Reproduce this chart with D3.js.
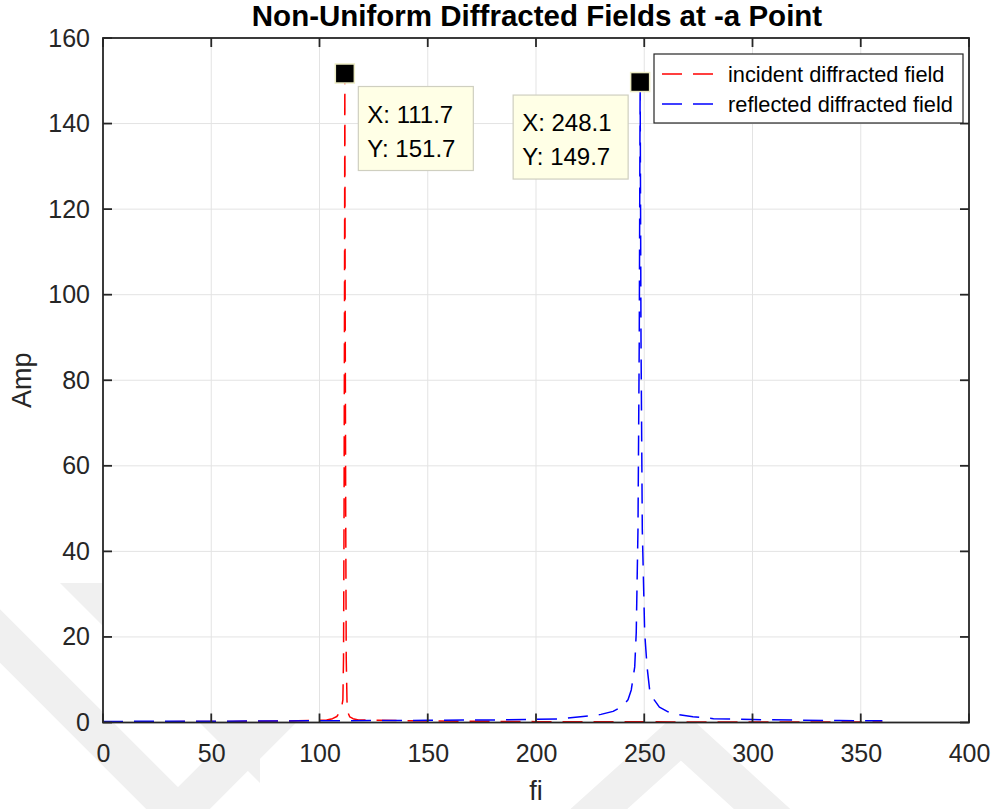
<!DOCTYPE html>
<html>
<head>
<meta charset="utf-8">
<script src="https://cdn.jsdelivr.net/npm/d3@7"></script>
<style>
  html, body { margin: 0; padding: 0; background: #ffffff; }
  svg { display: block; font-family: Arial, "Liberation Sans", Helvetica, sans-serif; }
</style>
</head>
<body>
<svg id="chart" width="998" height="809"></svg>
<script>
// ---------------- data ----------------
const xTicks = [0, 50, 100, 150, 200, 250, 300, 350, 400];
const yTicks = [0, 20, 40, 60, 80, 100, 120, 140, 160];

const seriesNames = ["incident diffracted field", "reflected diffracted field"];
const seriesColors = ["#ff0000", "#0000ff"];

const incidentX = [0, 30, 60, 90, 100, 103.3, 106, 108, 109.5, 110.3, 110.8, 111.1, 111.35, 111.55, 111.7, 111.85, 112.1, 112.35, 112.7, 113.3, 114, 115.5, 118, 127, 150, 200, 250, 300, 360];
const incidentY = [0.15, 0.2, 0.25, 0.4, 0.5, 0.6, 0.9, 1.4, 2.5, 3.8, 5.3, 15, 50, 100, 151.7, 100, 50, 15, 5, 2.1, 1.3, 0.9, 0.6, 0.5, 0.35, 0.2, 0.15, 0.12, 0.1];

const reflectedX = [0, 50, 100, 150, 180, 200, 211, 221.7, 230, 235.6, 240, 242.5, 244, 245.6, 246.3, 247.1, 247.7, 248.1, 248.5, 249.1, 250.2, 251.3, 252.5, 254.6, 257, 261, 266, 272.5, 282, 300, 320, 340, 360];
const reflectedY = [0.25, 0.3, 0.4, 0.5, 0.6, 0.75, 0.85, 1.4, 1.9, 2.6, 3.8, 5.3, 7.6, 13, 21, 45, 90, 149.7, 90, 45, 21, 13, 7.6, 5.3, 3.6, 2.5, 1.8, 1.35, 0.9, 0.7, 0.55, 0.45, 0.4];

const tipX = [111.7, 248.1];
const tipY = [151.7, 149.7];
const tipSide = ["right", "left"];

// ---------------- layout ----------------
const svg = d3.select("#chart");
const L = 103, R = 969, T = 38, B = 722.5;
const x = d3.scaleLinear().domain([0, 400]).range([L, R]);
const y = d3.scaleLinear().domain([0, 160]).range([B, T]);
const axisColor = "#262626";

// background watermark (decorative, behind axes)
const wm = svg.append("g").attr("fill", "none").attr("stroke", "#f0f0f0");
wm.append("path").attr("d", "M -30,606 L 178,814 L 420,572").attr("stroke-width", 38);
wm.append("path").attr("d", "M 60,583 L 260,583 L 260,783 Z").attr("fill", "#f0f0f0").attr("stroke", "none");
wm.append("path").attr("d", "M 520,880 L 681,735 L 840,880").attr("stroke-width", 38);

// plot background
svg.append("rect").attr("x", L).attr("y", T).attr("width", R - L).attr("height", B - T).attr("fill", "#ffffff");

// grid
const grid = svg.append("g").attr("stroke", "#e3e3e3").attr("stroke-width", 1);
grid.selectAll(".gx").data(xTicks.slice(1, -1)).enter().append("line")
  .attr("x1", d => x(d)).attr("x2", d => x(d)).attr("y1", T).attr("y2", B);
grid.selectAll(".gy").data(yTicks.slice(1, -1)).enter().append("line")
  .attr("y1", d => y(d)).attr("y2", d => y(d)).attr("x1", L).attr("x2", R);

// clip
svg.append("clipPath").attr("id", "clip").append("rect")
  .attr("x", L).attr("y", T - 2).attr("width", R - L).attr("height", B - T + 4);

const line = d3.line().x(d => x(d[0])).y(d => y(d[1]));
const plotG = svg.append("g").attr("clip-path", "url(#clip)");
const series = [d3.zip(incidentX, incidentY), d3.zip(reflectedX, reflectedY)];
series.forEach((s, i) => {
  plotG.append("path").datum(s).attr("d", line)
    .attr("fill", "none").attr("stroke", seriesColors[i]).attr("stroke-width", 1.5)
    .attr("stroke-dasharray", "20,11").attr("stroke-linejoin", "round");
});

// axes (box with inward ticks on all sides)
const tickLen = 9;
const ax = svg.append("g").attr("stroke", axisColor).attr("stroke-width", 1.8).attr("fill", "none");
ax.append("rect").attr("x", L).attr("y", T).attr("width", R - L).attr("height", B - T);
xTicks.forEach(t => {
  ax.append("line").attr("x1", x(t)).attr("x2", x(t)).attr("y1", B).attr("y2", B - tickLen);
  ax.append("line").attr("x1", x(t)).attr("x2", x(t)).attr("y1", T).attr("y2", T + tickLen);
});
yTicks.forEach(t => {
  ax.append("line").attr("y1", y(t)).attr("y2", y(t)).attr("x1", L).attr("x2", L + tickLen);
  ax.append("line").attr("y1", y(t)).attr("y2", y(t)).attr("x1", R).attr("x2", R - tickLen);
});

// tick labels via d3 axes
const gxAxis = svg.append("g").attr("transform", `translate(0,${B})`)
  .call(d3.axisBottom(x).tickValues(xTicks).tickSize(0).tickPadding(22).tickFormat(d3.format("d")));
gxAxis.select(".domain").remove();
gxAxis.selectAll("text").attr("font-size", 25).attr("fill", axisColor).attr("font-family", "Arial, 'Liberation Sans', sans-serif");

const gyAxis = svg.append("g").attr("transform", `translate(${L},0)`)
  .call(d3.axisLeft(y).tickValues(yTicks).tickSize(0).tickPadding(13).tickFormat(d3.format("d")));
gyAxis.select(".domain").remove();
gyAxis.selectAll("text").attr("font-size", 25).attr("fill", axisColor).attr("font-family", "Arial, 'Liberation Sans', sans-serif");

// axis labels
svg.append("text").attr("x", (L + R) / 2).attr("y", 800).attr("text-anchor", "middle")
  .attr("font-size", 27).attr("fill", axisColor).text("fi");
svg.append("text").attr("transform", `translate(31,${(T + B) / 2}) rotate(-90)`).attr("text-anchor", "middle")
  .attr("font-size", 27).attr("fill", axisColor).text("Amp");

// title
svg.append("text").attr("x", (L + R) / 2 + 1).attr("y", 26).attr("text-anchor", "middle")
  .attr("font-size", 29.5).attr("font-weight", "bold").attr("fill", "#000").text("Non-Uniform Diffracted Fields at -a Point");

// legend
const lg = svg.append("g");
lg.append("rect").attr("x", 654).attr("y", 54).attr("width", 309).attr("height", 69)
  .attr("fill", "#fff").attr("stroke", axisColor).attr("stroke-width", 1.2);
seriesNames.forEach((n, i) => {
  const yy = 74 + i * 30;
  lg.append("line").attr("x1", 662).attr("x2", 713).attr("y1", yy).attr("y2", yy)
    .attr("stroke", seriesColors[i]).attr("stroke-width", 1.5).attr("stroke-dasharray", "20,11");
  lg.append("text").attr("x", 728).attr("y", yy + 7.5).attr("font-size", 21.8).attr("fill", "#000").text(n);
});

// data tips
tipX.forEach((tx, i) => {
  const mx = x(tx), my = y(tipY[i]);
  const g = svg.append("g");
  const bw = 115, bh = 84;
  const bx = tipSide[i] === "right" ? mx + 13.5 : mx - 12 - bw;
  const by = my + 13;
  g.append("rect").attr("x", bx).attr("y", by).attr("width", bw).attr("height", bh)
    .attr("fill", "#ffffe6").attr("stroke", "#cfcfc0").attr("stroke-width", 1.2);
  g.append("text").attr("x", bx + 9).attr("y", by + 36).attr("font-size", 24).attr("fill", "#000")
    .text("X: " + d3.format(".1f")(tx));
  g.append("text").attr("x", bx + 9).attr("y", by + 70).attr("font-size", 24).attr("fill", "#000")
    .text("Y: " + d3.format(".1f")(tipY[i]));
  g.append("rect").attr("x", mx - 9.5).attr("y", my - 9.5).attr("width", 19).attr("height", 19)
    .attr("fill", "#000").attr("stroke", "#ecebc4").attr("stroke-width", 1.5);
});
</script>
</body>
</html>
